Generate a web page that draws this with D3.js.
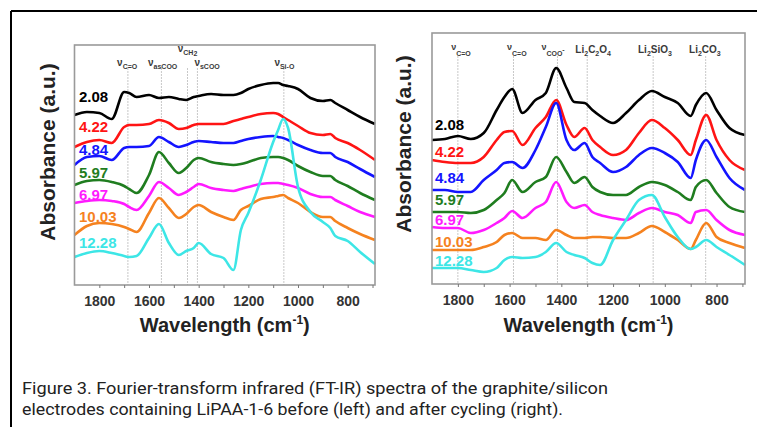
<!DOCTYPE html>
<html>
<head>
<meta charset="utf-8">
<script src="https://d3js.org/d3.v7.min.js"></script>
<style>
  body { margin: 0; background: #fff; }
  svg text { font-family: "Liberation Sans", Arial, sans-serif; }
  svg text.caption { font-family: Roboto, "Liberation Sans", sans-serif; }
  .tick text { font-size: 14px; font-weight: bold; fill: #333; }
  .tick line { stroke: #777; }
</style>
</head>
<body>
<div id="chart"></div>
<script>
// sample labels and colours (same for both panels)
var seriesLabels = ["2.08", "4.22", "4.84", "5.97", "6.97", "10.03", "12.28"];
var seriesColors = ["#000000", "#ff1414", "#1414ff", "#1f7d1f", "#ff1aff", "#f5821f", "#3de6e6"];

// left panel: before cycling (wavenumber in cm-1, absorbance a.u. incl. offset)
var leftWn   = [1900,1850,1800,1750,1700,1680,1650,1600,1560,1520,1480,1450,1420,1400,1350,1300,1260,1230,1200,1150,1100,1080,1060,1040,1000,950,900,870,850,800,750,690];
var left208  = [170,173,172,166,193,192,188,190,187,188,186,185,188,189,191,190,190,192,196,200,202,202,200,199,196,187,184,185,182,175,168,161];
var left422  = [138,143,145,142,158,160,160,161,165,162,156,157,160,161,161,161,164,166,168,171,172,171,168,165,159,152,150,151,147,142,135,125];
var left484  = [120,128,129,125,137,138,138,139,148,143,138,140,143,144,143,142,142,144,146,148,149,148,147,145,140,135,132,132,128,123,116,108];
var left597  = [100,104,105,103,99,96,92,110,133,122,112,117,125,127,123,121,120,121,123,127,128,128,127,125,119,113,109,109,105,99,92,85];
var left697  = [82,84,85,84,81,78,75,89,103,97,90,93,98,101,97,95,94,96,98,101,102,102,101,100,97,91,88,88,85,79,73,68];
var left1003 = [50,59,62,61,58,56,53,72,87,77,67,71,78,80,73,68,65,75,79,86,88,89,90,87,82,73,68,68,64,57,51,45];
var left1228 = [28,32,34,32,29,28,29,47,61,42,30,34,37,42,31,27,15,55,72,105,143,155,166,157,98,73,63,57,49,44,33,21];

// right panel: after cycling
var rightWn   = [1900,1850,1800,1750,1700,1650,1620,1590,1550,1500,1460,1420,1380,1350,1310,1280,1250,1200,1150,1100,1050,1000,950,900,880,840,800,750,690];
var right208  = [145,146,149,146,152,175,188,196,172,185,192,217,197,183,182,175,169,162,172,185,194,188,182,169,180,192,175,157,150];
var right422  = [125,123,122,122,128,145,153,154,140,157,168,185,160,148,157,145,138,130,135,152,165,157,145,130,145,170,145,125,115];
var right484  = [95,95,93,93,105,115,122,123,117,135,158,182,145,135,142,128,122,113,118,130,137,132,123,107,125,145,128,107,95];
var right597  = [73,73,73,72,75,85,92,105,93,103,108,128,113,102,108,98,93,90,90,98,103,100,93,85,98,105,92,78,73];
var right697  = [58,57,57,52,55,62,67,74,67,77,83,103,83,77,80,73,70,67,65,72,77,73,70,62,73,75,65,55,50];
var right1003 = [35,35,35,35,38,43,50,52,47,47,45,55,50,47,47,48,48,47,47,52,59,53,45,36,45,62,48,42,37];
var right1228 = [17,17,17,15,13,17,25,28,27,28,33,42,33,30,27,22,20,45,65,85,90,68,48,36,38,45,38,30,20];

// band assignments (reference lines) and their labels
var leftMarkWn = [1685, 1550, 1445, 1405, 1057];
var leftMarkLabels = [
  {wn: 1688, row: 1, parts: [["ν",0],["C=O",1]]},
  {wn: 1545, row: 1, parts: [["ν",0],["asCOO",1]]},
  {wn: 1445, row: 0, parts: [["ν",0],["CH",1],["2",2]]},
  {wn: 1366, row: 1, parts: [["ν",0],["sCOO",1]]},
  {wn: 1055, row: 1, parts: [["ν",0],["Si-O",1]]}
];
var rightMarkWn = [1800, 1585, 1415, 1300, 1045, 842];
var rightMarkLabels = [
  {wn: 1788, row: 1, parts: [["ν",-1],["C=O",1]]},
  {wn: 1572, row: 1, parts: [["ν",-1],["C=O",1]]},
  {wn: 1432, row: 1, parts: [["ν",-1],["COO",1],["-",3]]},
  {wn: 1277, row: 1, parts: [["Li",0],["2",1],["C",0],["2",1],["O",0],["4",1]]},
  {wn: 1038, row: 1, parts: [["Li",0],["2",1],["SiO",0],["3",1]]},
  {wn: 845,  row: 1, parts: [["Li",0],["2",1],["CO",0],["3",1]]}
];

var W = 757, H = 427;
var svg = d3.select("#chart").append("svg")
  .attr("width", W).attr("height", H);

svg.append("rect").attr("width", W).attr("height", H).attr("fill", "#fff");

// page frame (top and left rule)
svg.append("line").attr("x1", 11).attr("y1", 11).attr("x2", W).attr("y2", 11)
  .attr("stroke", "#000").attr("stroke-width", 2);
svg.append("line").attr("x1", 11).attr("y1", 11).attr("x2", 11).attr("y2", H)
  .attr("stroke", "#000").attr("stroke-width", 2);

var panels = [
  {
    wn: leftWn,
    series: [left208, left422, left484, left597, left697, left1003, left1228],
    box: {x0: 74.5, x1: 375, y0: 45, y1: 285},
    yDomain: [0, 240],
    markWn: leftMarkWn, markTop: 68,
    markLabels: leftMarkLabels, labelRows: [52, 66],
    labelX: 79, labelY: [102, 132, 155, 178, 200, 222, 248],
    yTitle: {x: 55, y: 152}
  },
  {
    wn: rightWn,
    series: [right208, right422, right484, right597, right697, right1003, right1228],
    box: {x0: 432, x1: 745, y0: 33, y1: 284},
    yDomain: [1, 252],
    markWn: rightMarkWn, markTop: 56,
    markLabels: rightMarkLabels, labelRows: [44, 53],
    labelX: 435, labelY: [130, 157, 183, 205, 225, 247, 266],
    yTitle: {x: 411, y: 144}
  }
];

function richText(g, x, y, parts) {
  var t = g.append("text")
    .attr("x", x).attr("y", y)
    .attr("text-anchor", "middle")
    .attr("font-size", 10).attr("font-weight", "bold").attr("fill", "#3a3a3a");
  var shift = 0;
  parts.forEach(function(p) {
    var target = p[1] == 1 ? 3 : p[1] == 2 ? 4 : p[1] == 3 ? -1 : p[1] == -1 ? -3 : 0;
    var size = p[1] == 0 ? 10 : p[1] == -1 ? 9 : 7;
    t.append("tspan")
      .attr("dy", target - shift)
      .attr("font-size", size)
      .text(p[0]);
    shift = target;
  });
}

panels.forEach(function(p) {
  var x = d3.scaleLinear().domain([1900, 690]).range([p.box.x0, p.box.x1]);
  var y = d3.scaleLinear().domain(p.yDomain).range([p.box.y1, p.box.y0]);
  var g = svg.append("g");

  // reference lines for band positions
  g.selectAll(".mark").data(p.markWn).enter().append("line")
    .attr("x1", function(d) { return x(d); })
    .attr("x2", function(d) { return x(d); })
    .attr("y1", p.markTop).attr("y2", p.box.y1)
    .attr("stroke", "#c8c8c8").attr("stroke-width", 1)
    .attr("stroke-dasharray", "2,1");

  p.markLabels.forEach(function(m) {
    richText(g, x(m.wn), p.labelRows[m.row], m.parts);
  });

  // spectra
  var line = d3.line()
    .x(function(d) { return x(d[0]); })
    .y(function(d) { return y(d[1]); })
    .curve(d3.curveMonotoneX);

  p.series.forEach(function(vals, i) {
    g.append("path")
      .datum(p.wn.map(function(w, k) { return [w, vals[k]]; }))
      .attr("d", line)
      .attr("fill", "none")
      .attr("stroke", seriesColors[i])
      .attr("stroke-width", 2.6)
      .attr("stroke-linejoin", "round");
  });

  // sample labels
  seriesLabels.forEach(function(lab, i) {
    g.append("text")
      .attr("x", p.labelX).attr("y", p.labelY[i])
      .attr("font-size", 15).attr("font-weight", "bold")
      .attr("fill", seriesColors[i])
      .text(lab);
  });

  // frame
  g.append("rect")
    .attr("x", p.box.x0).attr("y", p.box.y0)
    .attr("width", p.box.x1 - p.box.x0).attr("height", p.box.y1 - p.box.y0)
    .attr("fill", "none").attr("stroke", "#9a9a9a").attr("stroke-width", 1.6);

  // x axis
  var ax = g.append("g")
    .attr("transform", "translate(0," + p.box.y1 + ")")
    .call(d3.axisBottom(x)
      .tickValues(d3.range(700, 1900, 100))
      .tickSize(3).tickPadding(8)
      .tickFormat(function(d) { return d % 200 == 0 ? d : ""; }));
  ax.select(".domain").remove();

  var xt = g.append("text")
    .attr("x", (p.box.x0 + p.box.x1) / 2).attr("y", 332)
    .attr("text-anchor", "middle")
    .attr("font-size", 20).attr("font-weight", "bold").attr("fill", "#222");
  xt.append("tspan").text("Wavelength (cm");
  xt.append("tspan").attr("font-size", 12).attr("dy", -8).text("-1");
  xt.append("tspan").attr("dy", 8).text(")");

  g.append("text")
    .attr("transform", "translate(" + p.yTitle.x + "," + p.yTitle.y + ") rotate(-90)")
    .attr("text-anchor", "middle")
    .attr("font-size", 21).attr("font-weight", "bold").attr("fill", "#222")
    .text("Absorbance (a.u.)");
});

// caption
var captionLines = [
  "Figure 3. Fourier-transform infrared (FT-IR) spectra of the graphite/silicon",
  "electrodes containing LiPAA-1-6 before (left) and after cycling (right)."
];
var captionWidths = [586, 541];
captionLines.forEach(function(c, i) {
  svg.append("text")
    .attr("class", "caption")
    .attr("x", 22).attr("y", 394 + i * 21)
    .attr("font-size", 16).attr("fill", "#222")
    .attr("textLength", captionWidths[i])
    .attr("lengthAdjust", "spacingAndGlyphs")
    .text(c);
});
</script>
</body>
</html>
